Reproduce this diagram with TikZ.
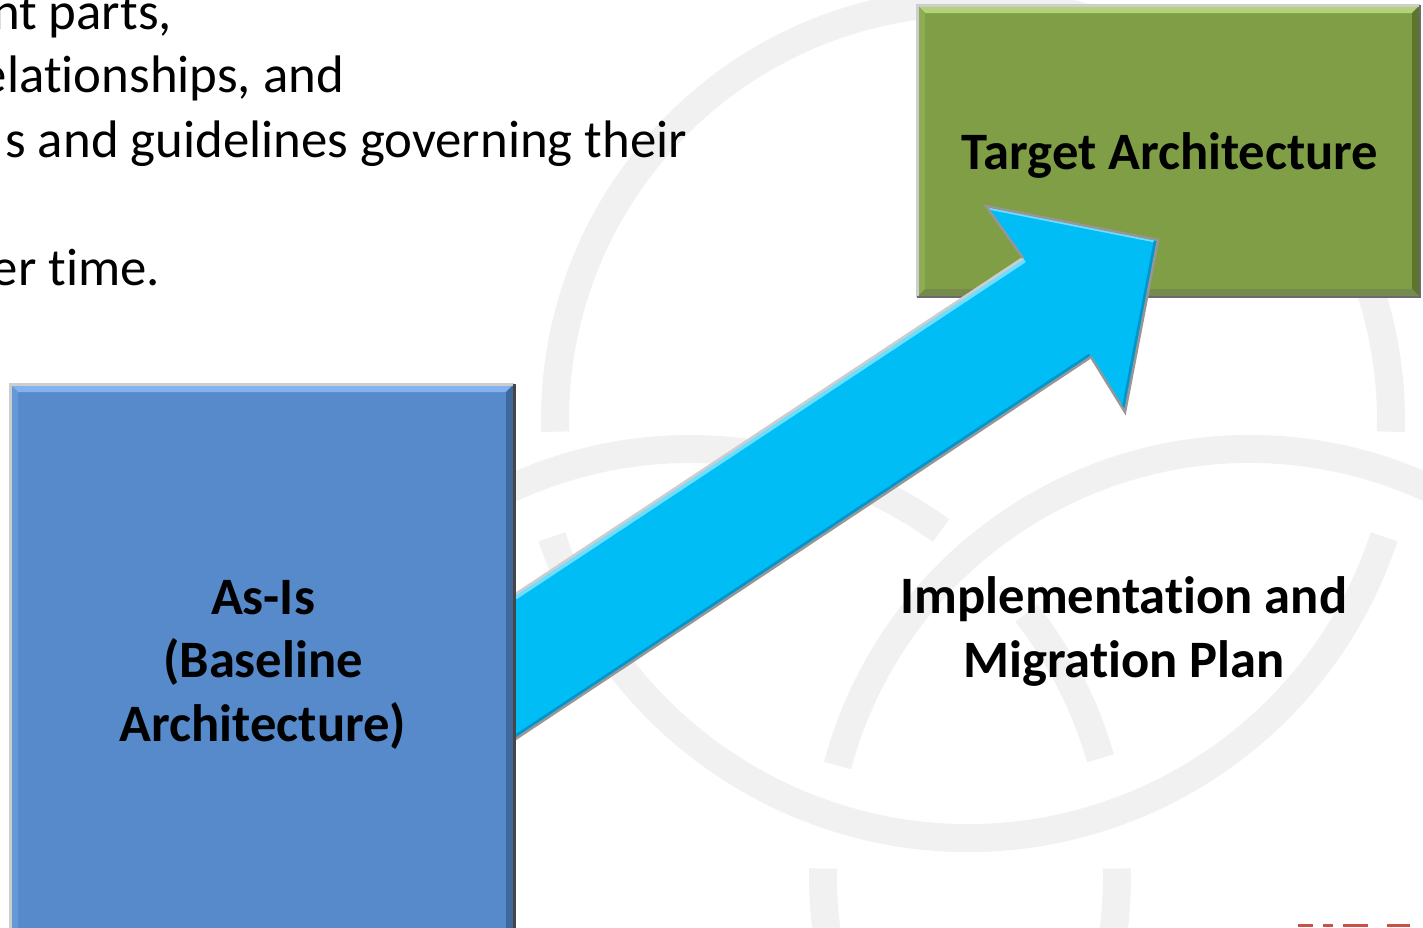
\documentclass[tikz,border=0pt]{standalone}
\usepackage{fontspec}
\setmainfont[Ligatures={NoCommon,NoContextual}]{Carlito}
\newcommand{\nolig}{\kern0pt{}}
\definecolor{wmgray}{RGB}{241,241,241}
\definecolor{asisblue}{RGB}{86,138,202}
\definecolor{asistop}{RGB}{130,178,240}
\definecolor{asisside}{RGB}{100,152,214}
\definecolor{asisdark}{RGB}{62,104,158}
\definecolor{targetgreen}{RGB}{128,158,69}
\definecolor{targettop}{RGB}{180,210,122}
\definecolor{targetside}{RGB}{142,172,82}
\definecolor{targetdark}{RGB}{92,118,46}
\definecolor{arrowcyan}{RGB}{0,190,245}
\definecolor{arrowlight}{RGB}{110,222,255}
\definecolor{arrowdark}{RGB}{0,150,205}
\definecolor{edgelight}{RGB}{205,205,205}
\definecolor{edgedark}{RGB}{70,70,70}
\definecolor{headedge}{RGB}{150,150,150}
\definecolor{logored}{RGB}{205,80,70}
\tikzset{
  wm/.style={draw=wmgray, line width=28},
  bodytxt/.style={inner sep=0, outer sep=0, text=black, font=\fontsize{52.8}{64}\selectfont},
  boldtxt/.style={inner sep=0, outer sep=0, text=black, font=\bfseries\fontsize{52.6}{64}\selectfont},
  archbox/.style={rectangle, inner sep=0, outer sep=0, draw=none},
}
\begin{document}
\begin{tikzpicture}[x=1pt,y=-1pt]
\useasboundingbox (0,0) rectangle (1423,927);
\clip (0,0) rectangle (1423,927);
\fill[white] (0,0) rectangle (1423,927);

% watermark rings
\draw[wm] (973,420) ++(178.4:418) arc[start angle=178.4, end angle=361.6, radius=418];
\draw[wm] (968,400) ++(161.8:438) arc[start angle=161.8, end angle=18.2, radius=438];
\draw[wm] (690,876) ++(215:427) arc[start angle=215, end angle=306, radius=427];
\draw[wm] (690,876) ++(322:427) arc[start angle=322, end angle=344, radius=427];
\draw[wm] (690,876) ++(359:427) arc[start angle=359, end angle=380, radius=427];
\draw[wm] (1250,876) ++(195:427) arc[start angle=195, end angle=320, radius=427];
\draw[wm] (1250,876) ++(181:427) arc[start angle=181, end angle=160, radius=427];

% body text (cut at left edge)
\node[bodytxt, anchor=base east] (l1) at (172,29) {nt parts,};
\node[bodytxt, anchor=base east] (l2) at (344,92) {elat\nolig ionships, and};
\node[bodytxt, anchor=base east] (l3) at (687,157) {s and guidelines governing their};
\node[bodytxt, anchor=base east] (l4) at (160,285) {er t\nolig ime.};

% target box
\node[archbox, fill=targetgreen, minimum width=503, minimum height=292] (target) at (1168.5,151) {};
\fill[targettop] (target.north west) -- (target.north east) -- ([shift={(-8,8)}]target.north east) -- ([shift={(8,8)}]target.north west) -- cycle;
\fill[targetside] (target.north west) -- ([shift={(8,8)}]target.north west) -- ([shift={(8,-8)}]target.south west) -- (target.south west) -- cycle;
\fill[targetdark] (target.north east) -- (target.south east) -- ([shift={(-8,-8)}]target.south east) -- ([shift={(-8,8)}]target.north east) -- cycle;
\fill[targetdark!85] (target.south west) -- (target.south east) -- ([shift={(-8,-8)}]target.south east) -- ([shift={(8,-8)}]target.south west) -- cycle;
\draw[edgelight, line width=3] (target.south west) -- (target.north west) -- (target.north east);
\draw[edgedark!80, line width=2.5] (target.north east) -- (target.south east) -- (target.south west);

% as-is box
\node[archbox, fill=asisblue, minimum width=504, minimum height=560] (asis) at (262,664) {};
\fill[asistop] (asis.north west) -- (asis.north east) -- ([shift={(-8,8)}]asis.north east) -- ([shift={(8,8)}]asis.north west) -- cycle;
\fill[asisside] (asis.north west) -- ([shift={(8,8)}]asis.north west) -- ([shift={(8,0)}]asis.south west) -- (asis.south west) -- cycle;
\fill[asisdark] (asis.north east) -- (asis.south east) -- ([shift={(-8,0)}]asis.south east) -- ([shift={(-8,8)}]asis.north east) -- cycle;

% arrow from as-is to target
\coordinate (tailtop) at ([shift={(0,-69)}]asis.east);
\coordinate (tailbot) at ([shift={(0,76)}]asis.east);
\coordinate (notchtop) at (1023,258);
\coordinate (barbl) at (986,206);
\coordinate (tip) at (1158,240);
\coordinate (barbr) at (1125,412);
\coordinate (notchbot) at (1091,357);
\begin{scope}
  \clip (tailtop) -- (notchtop) -- (barbl) -- (tip) -- (barbr) -- (notchbot) -- (tailbot) -- cycle;
  \fill[arrowcyan] (tailtop) -- (notchtop) -- (barbl) -- (tip) -- (barbr) -- (notchbot) -- (tailbot) -- cycle;
  \draw[arrowlight, line width=10] (tailtop) -- (notchtop);
  \draw[arrowlight, line width=6] (barbl) -- (tip);
  \draw[arrowdark, line width=8] (tailbot) -- (notchbot);
  \draw[arrowdark, line width=8] (tip) -- (barbr);
\end{scope}
\draw[edgelight, line width=2.5, line join=miter] (tailtop) -- (notchtop);
\draw[headedge, line width=2.5, line join=miter] (notchtop) -- (barbl) -- (tip) -- (barbr) -- (notchbot);
\draw[headedge, line width=2.5] (notchbot) -- (tailbot);

% as-is borders
\draw[edgelight, line width=3] (asis.south west) -- (asis.north west) -- (asis.north east);
\draw[edgedark, line width=3] (asis.north east) -- (asis.south east);

% labels
\node[boldtxt, anchor=base] (tt) at (1170,169) {Target Architecture};
\node[boldtxt, anchor=base] (a1) at (263,614) {As-Is};
\node[boldtxt, anchor=base] (a2) at (263,677) {(Baseline};
\node[boldtxt, anchor=base] (a3) at (263,741) {Architecture)};
\node[boldtxt, anchor=base] (m1) at (1124,613) {Implementat\nolig ion and};
\node[boldtxt, anchor=base] (m2) at (1124,677) {Migrat\nolig ion Plan};

% cut-off red logo fragments
\fill[logored] (1298,924) rectangle (1313,927);
\fill[logored] (1323,924) rectangle (1333,927);
\fill[logored] (1343,924) rectangle (1368,927);
\fill[logored] (1387,924) rectangle (1410,927);
\end{tikzpicture}
\end{document}
